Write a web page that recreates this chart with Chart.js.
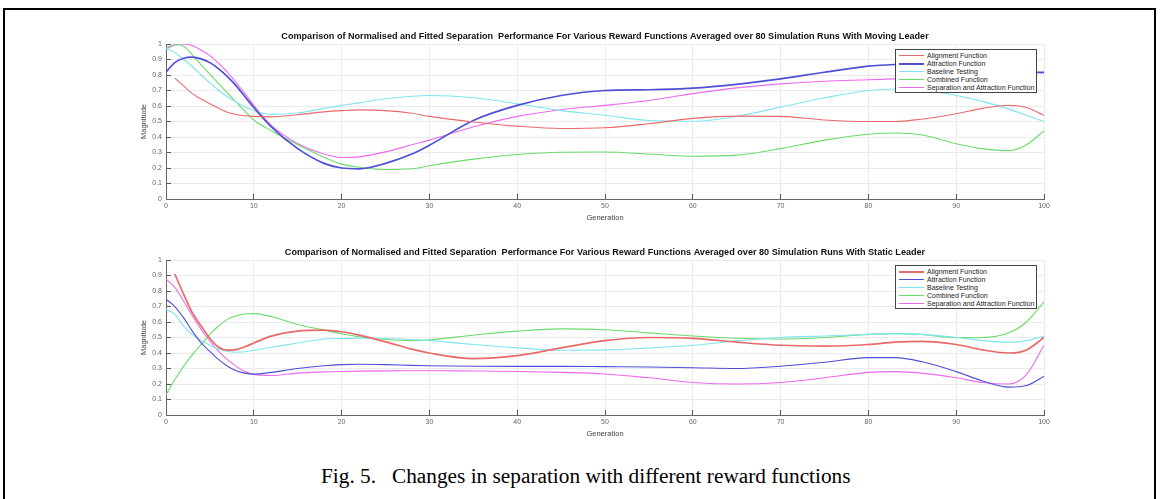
<!DOCTYPE html>
<html>
<head>
<meta charset="utf-8">
<script src="https://cdn.jsdelivr.net/npm/chart.js@4.4.0/dist/chart.umd.min.js"></script>
<style>
  html, body { margin:0; padding:0; background:#fff; width:1161px; height:499px; overflow:hidden; }
  #frame { position:absolute; left:3px; top:8px; width:1153px; height:600px; border:2px solid #000; box-sizing:border-box; }
  .cv { position:absolute; left:0; width:1100px; height:205px; }
  .legend { position:absolute; left:895px; width:142px; border:1px solid #444; background:#fff; box-sizing:border-box; padding:2px 0 1px 0; font-family:"Liberation Sans", Arial, sans-serif; font-size:7px; color:#222; }
  .legend .row { height:7.8px; display:flex; align-items:center; white-space:nowrap; }
  .legend .sw { width:25px; margin-left:3px; margin-right:3px; flex:none; }
  #caption { position:absolute; left:321px; top:465px; font-family:"Liberation Serif", "Times New Roman", serif; font-size:21.3px; line-height:22px; color:#000; white-space:pre; }
</style>
</head>
<body>
<div id="frame"></div>
<canvas id="c1" class="cv" width="1100" height="205" style="top:20px"></canvas>
<canvas id="c2" class="cv" width="1100" height="205" style="top:236px"></canvas>
<div id="leg1" class="legend" style="top:49px"></div>
<div id="leg2" class="legend" style="top:265px"></div>
<div id="caption">Fig. 5.   Changes in separation with different reward functions</div>
<script>
const generations = [0,1,2,3,4,5,6,7,8,9,10,12,15,18,20,22,25,28,30,35,40,45,50,55,60,65,70,75,80,83,86,90,93,96,98,100];
const seriesNames = ["Alignment Function","Attraction Function","Baseline Testing","Combined Function","Separation and Attraction Function"];
const seriesColors = ["#e96a6a","#4f4fd6","#7fe5f2","#6cdc6c","#ee6aee"];
const yTicks = [0,0.1,0.2,0.3,0.4,0.5,0.6,0.7,0.8,0.9,1];
const xTicks = [0,10,20,30,40,50,60,70,80,90,100];

// Moving leader
const movAlignment   = [null,0.78,0.73,0.68,0.645,0.615,0.585,0.56,0.545,0.537,0.533,0.53,0.544,0.562,0.57,0.575,0.57,0.553,0.533,0.497,0.47,0.455,0.46,0.486,0.52,0.535,0.533,0.51,0.50,0.50,0.515,0.55,0.585,0.605,0.59,0.54];
const movAttraction  = [0.818,0.88,0.908,0.915,0.904,0.88,0.84,0.79,0.73,0.66,0.59,0.465,0.325,0.23,0.2,0.195,0.23,0.29,0.347,0.507,0.604,0.668,0.70,0.705,0.715,0.74,0.775,0.818,0.857,0.868,0.872,0.865,0.85,0.83,0.82,0.815];
const movBaseline    = [0.974,0.946,0.9,0.855,0.80,0.75,0.70,0.66,0.625,0.595,0.57,0.546,0.555,0.585,0.604,0.62,0.647,0.663,0.668,0.653,0.615,0.57,0.54,0.507,0.502,0.533,0.593,0.653,0.70,0.71,0.705,0.668,0.63,0.58,0.54,0.5];
const movCombined    = [0.975,0.995,0.985,0.93,0.865,0.805,0.745,0.685,0.625,0.565,0.51,0.44,0.35,0.27,0.225,0.205,0.19,0.195,0.215,0.257,0.287,0.302,0.303,0.29,0.276,0.283,0.325,0.38,0.418,0.426,0.415,0.357,0.325,0.312,0.35,0.44];
const movSepAttr     = [0.968,0.994,1.0,0.99,0.96,0.925,0.875,0.818,0.75,0.68,0.604,0.475,0.358,0.29,0.268,0.272,0.304,0.35,0.38,0.465,0.533,0.576,0.604,0.636,0.68,0.717,0.743,0.76,0.769,0.775,0.78,0.785,0.79,0.8,0.81,0.82];

// Static leader
const staAlignment   = [null,0.91,0.78,0.66,0.574,0.494,0.437,0.418,0.422,0.44,0.465,0.509,0.541,0.548,0.537,0.515,0.472,0.425,0.40,0.364,0.383,0.433,0.48,0.5,0.495,0.47,0.45,0.445,0.455,0.47,0.475,0.455,0.42,0.40,0.42,0.5];
const staAttraction  = [0.747,0.70,0.628,0.541,0.465,0.41,0.357,0.315,0.286,0.27,0.264,0.275,0.30,0.318,0.325,0.327,0.325,0.32,0.318,0.315,0.314,0.314,0.312,0.31,0.305,0.3,0.315,0.34,0.37,0.37,0.345,0.28,0.22,0.18,0.19,0.25];
const staBaseline    = [0.682,0.65,0.574,0.52,0.48,0.45,0.425,0.41,0.405,0.408,0.418,0.437,0.465,0.49,0.494,0.496,0.494,0.486,0.48,0.455,0.433,0.418,0.42,0.432,0.45,0.478,0.5,0.51,0.52,0.525,0.52,0.5,0.48,0.47,0.48,0.51];
const staCombined    = [0.13,0.227,0.314,0.39,0.455,0.52,0.574,0.617,0.64,0.652,0.654,0.635,0.584,0.548,0.524,0.505,0.487,0.48,0.485,0.515,0.541,0.556,0.55,0.53,0.51,0.495,0.49,0.5,0.52,0.525,0.52,0.5,0.5,0.53,0.6,0.73];
const staSepAttr     = [0.877,0.823,0.736,0.64,0.552,0.476,0.41,0.357,0.314,0.28,0.262,0.255,0.27,0.278,0.281,0.283,0.285,0.286,0.286,0.284,0.281,0.275,0.265,0.24,0.21,0.2,0.21,0.24,0.275,0.28,0.27,0.24,0.21,0.2,0.26,0.45];

const titleMoving = "Comparison of Normalised and Fitted Separation  Performance For Various Reward Functions Averaged over 80 Simulation Runs With Moving Leader";
const titleStatic = "Comparison of Normalised and Fitted Separation  Performance For Various Reward Functions Averaged over 80 Simulation Runs With Static Leader";

const FONT = "'Liberation Sans', Arial, sans-serif";

function makeChart(id, title, seriesList, widths) {
  const datasets = seriesList.map((vals, i) => ({
    label: seriesNames[i],
    data: generations.map((g, k) => ({x: g, y: vals[k]})),
    borderColor: seriesColors[i],
    backgroundColor: seriesColors[i],
    borderWidth: widths[i],
    pointRadius: 0,
    fill: false,
    cubicInterpolationMode: 'monotone',
    spanGaps: false
  }));
  return new Chart(document.getElementById(id), {
    type: 'line',
    data: { datasets },
    options: {
      responsive: false,
      animation: false,
      events: [],
      layout: { padding: { left: 136, right: 56, top: 0, bottom: 0 } },
      plugins: {
        legend: { display: false },
        tooltip: { enabled: false },
        title: {
          display: true, text: title, color: '#111', fullSize: false,
          font: { family: FONT, size: 9.1, weight: 'bold' },
          padding: { top: 11.3, bottom: 1.8 }
        }
      },
      scales: {
        x: {
          type: 'linear', min: 0, max: 100,
          afterBuildTicks: s => { s.ticks = xTicks.map(v => ({value: v})); },
          afterFit: s => { s.height = 26; },
          grid: { color: '#ebebeb', lineWidth: 1, tickLength: -5, tickColor: '#555' },
          border: { color: '#666', width: 1 },
          ticks: { color: '#666', padding: 8, font: { family: FONT, size: 7 }, maxRotation: 0, autoSkip: false },
          title: { display: true, text: 'Generation', color: '#444', font: { family: FONT, size: 7.5 }, padding: { top: 0, bottom: 3 } }
        },
        y: {
          type: 'linear', min: 0, max: 1,
          afterBuildTicks: s => { s.ticks = yTicks.map(v => ({value: v})); },
          afterFit: s => { s.width = 30; },
          grid: { color: '#ebebeb', lineWidth: 1, tickLength: -5, tickColor: '#555' },
          border: { color: '#666', width: 1 },
          ticks: { color: '#666', padding: 9, font: { family: FONT, size: 7 }, autoSkip: false,
                   callback: v => String(Math.round(v * 10) / 10) },
          title: { display: true, text: 'Magnitude', color: '#444', font: { family: FONT, size: 7.5 }, padding: { top: 3, bottom: 0 } }
        }
      }
    }
  });
}

function makeLegend(id, widths) {
  const el = document.getElementById(id);
  seriesNames.forEach((name, i) => {
    const row = document.createElement('div'); row.className = 'row';
    const sw = document.createElement('div'); sw.className = 'sw';
    sw.style.height = widths[i] + 'px';
    sw.style.background = seriesColors[i];
    const tx = document.createElement('span'); tx.textContent = name;
    row.appendChild(sw); row.appendChild(tx); el.appendChild(row);
  });
}

const w1 = [1.1, 1.7, 1.1, 1.1, 1.1];
const w2 = [1.7, 1.1, 1.1, 1.1, 1.1];
makeChart('c1', titleMoving, [movAlignment, movAttraction, movBaseline, movCombined, movSepAttr], w1);
makeChart('c2', titleStatic, [staAlignment, staAttraction, staBaseline, staCombined, staSepAttr], w2);
makeLegend('leg1', w1);
makeLegend('leg2', w2);
</script>
</body>
</html>
